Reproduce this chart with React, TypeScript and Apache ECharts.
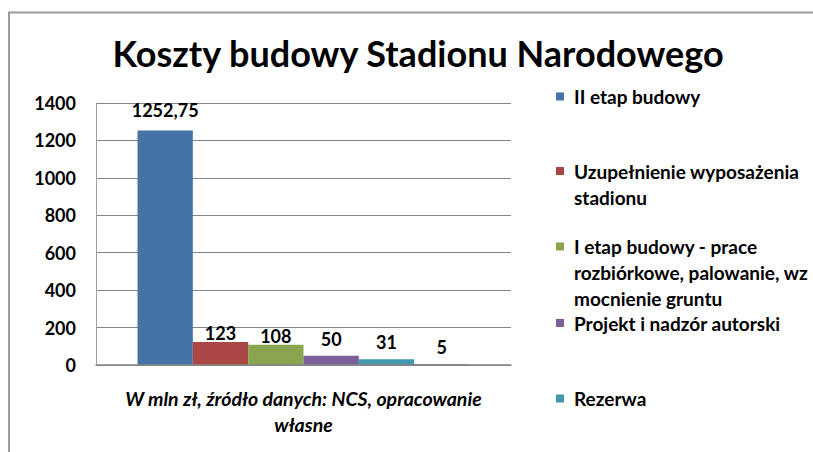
import React, { useEffect, useRef } from "react";
import * as echarts from "echarts";

const titleText = "Koszty budowy Stadionu Narodowego";
const categories = [""];
const seriesNames = [
  "II etap budowy",
  "Uzupełnienie wyposażenia\nstadionu",
  "I etap budowy - prace\nrozbiórkowe, palowanie, wz\nmocnienie gruntu",
  "Projekt i nadzór autorski",
  "Rezerwa",
  "",
];
const seriesValues = [1252.75, 123, 108, 50, 31, 5];
const seriesColors = ["#4572A7", "#AA4643", "#89A54E", "#7A5F9A", "#4198AF", "#DB843D"];
const yTicks = { min: 0, max: 1400, interval: 200 };
const axisName = "W mln zł, źródło danych: NCS, opracowanie\nwłasne";

const FONT = "Lato";

export default function App() {
  const ref = useRef<HTMLDivElement>(null);
  useEffect(() => {
    document.body.style.margin = "0";
    const chart = echarts.init(ref.current!, null, { renderer: "svg" });
    const L = 26;
    const legendTops = [83.5, 132, 181.5, 310, 385.5];
    const labelDistances = [12, 0, 0, 8, 8, 8];
    const legends = seriesNames.slice(0, 5).map((n, i) => {
      return {
        data: [n],
        left: 556,
        top: legendTops[i],
        padding: 0,
        orient: "vertical",
        itemWidth: 8,
        itemHeight: 8,
        itemGap: 0,
        icon: "rect",
        selectedMode: false,
        formatter: (name: string) => {
          const lines = name.split("\n");
          const pre = "\n".repeat(lines.length - 1);
          return pre + lines.map((l) => `{t|${l}}`).join("\n");
        },
        textStyle: {
          fontFamily: FONT,
          fontWeight: "bold",
          fontSize: 19,
          color: "#000",
          lineHeight: L,
          rich: {
            t: {
              fontFamily: FONT,
              fontWeight: "bold",
              fontSize: 19,
              color: "#000",
              lineHeight: L,
              padding: [0, 0, 0, 5],
            },
          },
        },
      };
    });
    chart.setOption({
      animation: false,
      backgroundColor: "#fff",
      title: {
        text: titleText,
        left: 418,
        textAlign: "center",
        top: 33,
        padding: 0,
        textStyle: { fontFamily: FONT, fontWeight: "bold", fontSize: 36, color: "#000", lineHeight: 40 },
      },
      legend: legends,
      grid: { left: 96, right: 302, top: 103, bottom: 87 },
      xAxis: {
        type: "category",
        data: categories,
        z: 5,
        axisTick: { show: false },
        axisLabel: { show: false },
        axisLine: { lineStyle: { color: "#868686", width: 1.5 } },
        name: axisName,
        nameLocation: "middle",
        nameGap: 20,
        nameTextStyle: {
          fontFamily: FONT,
          fontWeight: "bold",
          fontStyle: "italic",
          fontSize: 19.5,
          color: "#000",
          lineHeight: 26,
        },
      },
      yAxis: {
        type: "value",
        min: yTicks.min,
        max: yTicks.max,
        interval: yTicks.interval,
        axisLine: { show: true, lineStyle: { color: "#A0A0A0", width: 1 } },
        axisTick: { show: false },
        splitLine: { lineStyle: { color: "#868686", width: 1 } },
        axisLabel: {
          fontFamily: FONT,
          fontWeight: "bold",
          fontSize: 18,
          color: "#000",
          margin: 20,
          formatter: (v: number) => String(v),
        },
      },
      graphic: [
        { type: "line", shape: { x1: 9, y1: 12, x2: 9, y2: 452 }, style: { stroke: "#9a9a9a", lineWidth: 2 } },
        { type: "line", shape: { x1: 8, y1: 12.5, x2: 813, y2: 12.5 }, style: { stroke: "#9a9a9a", lineWidth: 2 } },
      ],
      series: seriesNames.map((n, i) => ({
        type: "bar",
        name: n,
        data: [seriesValues[i]],
        barGap: "0%",
        barCategoryGap: "20%",
        itemStyle: { color: seriesColors[i] },
        label: {
          show: true,
          position: "top",
          distance: labelDistances[i],
          fontFamily: FONT,
          fontWeight: "bold",
          fontSize: 18,
          color: "#000",
          formatter: (p: any) => String(p.value).replace(".", ","),
        },
      })),
    });
    return () => chart.dispose();
  }, []);
  return <div ref={ref} style={{ position: "fixed", left: 0, top: 0, width: 813, height: 452 }} />;
}
